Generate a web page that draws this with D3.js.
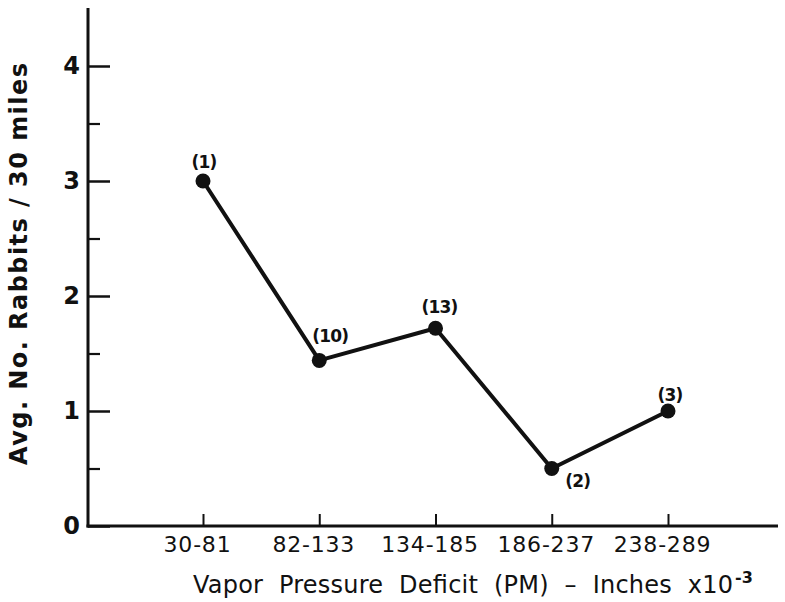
<!DOCTYPE html>
<html>
<head>
<meta charset="utf-8">
<script src="https://cdn.jsdelivr.net/npm/d3@7"></script>
<style>
  html, body { margin: 0; padding: 0; background: #fff; }
  svg { display: block; }
  text { font-family: "DejaVu Sans", "Liberation Sans", sans-serif; fill: #111; }
</style>
</head>
<body>
<svg id="chart" width="785" height="602"></svg>
<script>
// Vapor pressure deficit classes (inches x10^-3)
const categories = ["30-81", "82-133", "134-185", "186-237", "238-289"];
// Average number of rabbits counted per 30 miles
const avgRabbits = [3.0, 1.44, 1.72, 0.5, 1.0];
// Number of counts behind each average
const sampleSizes = [1, 10, 13, 2, 3];
// Y axis ticks
const yMajorTicks = [0, 1, 2, 3, 4];
const yMinorTicks = [0.5, 1.5, 2.5, 3.5];

// Where each count label sits relative to its point
const labelOffsets = [[1, -13], [11, -18], [4, -15], [26, 18], [2, -10]];

const svg = d3.select("#chart");
const frame = { left: 88, right: 778, top: 8, bottom: 526 };

const x = d3.scalePoint().domain(categories).range([203, 668]);
const y = d3.scaleLinear().domain([0, 4]).range([frame.bottom, 66]);

const ink = "#111";

// Axis lines
svg.append("line")
  .attr("x1", frame.left).attr("x2", frame.left)
  .attr("y1", frame.top).attr("y2", frame.bottom + 1.5)
  .attr("stroke", ink).attr("stroke-width", 3);
svg.append("line")
  .attr("x1", frame.left - 1.5).attr("x2", frame.right)
  .attr("y1", frame.bottom).attr("y2", frame.bottom)
  .attr("stroke", ink).attr("stroke-width", 3);

// Y axis: major ticks with labels, pointing inward
const yAxis = svg.append("g")
  .attr("transform", `translate(${frame.left},0)`)
  .call(d3.axisLeft(y).tickValues(yMajorTicks).tickSize(-22).tickPadding(8)
    .tickFormat(d3.format("d")));
yAxis.select(".domain").remove();
yAxis.selectAll(".tick line").attr("stroke", ink).attr("stroke-width", 2.5);
yAxis.selectAll(".tick text")
  .attr("text-anchor", "end")
  .attr("font-size", 24)
  .attr("font-weight", "bold")
  .attr("fill", ink);

// Y axis: minor ticks
const yMinor = svg.append("g")
  .attr("transform", `translate(${frame.left},0)`)
  .call(d3.axisLeft(y).tickValues(yMinorTicks).tickSize(-12).tickFormat(""));
yMinor.select(".domain").remove();
yMinor.selectAll(".tick line").attr("stroke", ink).attr("stroke-width", 2.2);

// X axis: category ticks pointing up, labels below
const xAxis = svg.append("g")
  .attr("transform", `translate(0,${frame.bottom})`)
  .call(d3.axisBottom(x).tickSize(-12).tickPadding(10));
xAxis.select(".domain").remove();
xAxis.selectAll(".tick line").attr("stroke", ink).attr("stroke-width", 2);
xAxis.selectAll(".tick text")
  .attr("x", -6)
  .attr("font-size", 22)
  .attr("letter-spacing", 0.8)
  .attr("fill", ink);

// Data line
const pts = categories.map((c, i) => ({ c, v: avgRabbits[i], n: sampleSizes[i], off: labelOffsets[i] }));
svg.append("path")
  .datum(pts)
  .attr("fill", "none")
  .attr("stroke", ink)
  .attr("stroke-width", 4)
  .attr("stroke-linejoin", "round")
  .attr("d", d3.line().x(d => x(d.c)).y(d => y(d.v)));

svg.selectAll("circle.pt")
  .data(pts)
  .join("circle")
  .attr("class", "pt")
  .attr("cx", d => x(d.c))
  .attr("cy", d => y(d.v))
  .attr("r", 7.5)
  .attr("fill", ink);

// Sample size labels
svg.selectAll("text.n")
  .data(pts)
  .join("text")
  .attr("class", "n")
  .attr("x", d => x(d.c) + d.off[0])
  .attr("y", d => y(d.v) + d.off[1])
  .attr("text-anchor", "middle")
  .attr("font-size", 17)
  .attr("font-weight", "bold")
  .attr("letter-spacing", -0.8)
  .text(d => `(${d.n})`);

// Axis titles
svg.append("text")
  .attr("transform", "translate(27,264) rotate(-90)")
  .attr("text-anchor", "middle")
  .attr("font-size", 24)
  .attr("font-weight", "bold")
  .attr("textLength", 402)
  .attr("lengthAdjust", "spacing")
  .text("Avg. No. Rabbits / 30 miles");

svg.append("text")
  .attr("x", 193)
  .attr("y", 593)
  .attr("font-size", 24)
  .attr("word-spacing", 8)
  .attr("textLength", 540)
  .attr("lengthAdjust", "spacing")
  .text("Vapor Pressure Deficit (PM) – Inches x10");
svg.append("text")
  .attr("x", 735)
  .attr("y", 583)
  .attr("font-size", 16)
  .attr("font-weight", "bold")
  .text("-3");
</script>
</body>
</html>
